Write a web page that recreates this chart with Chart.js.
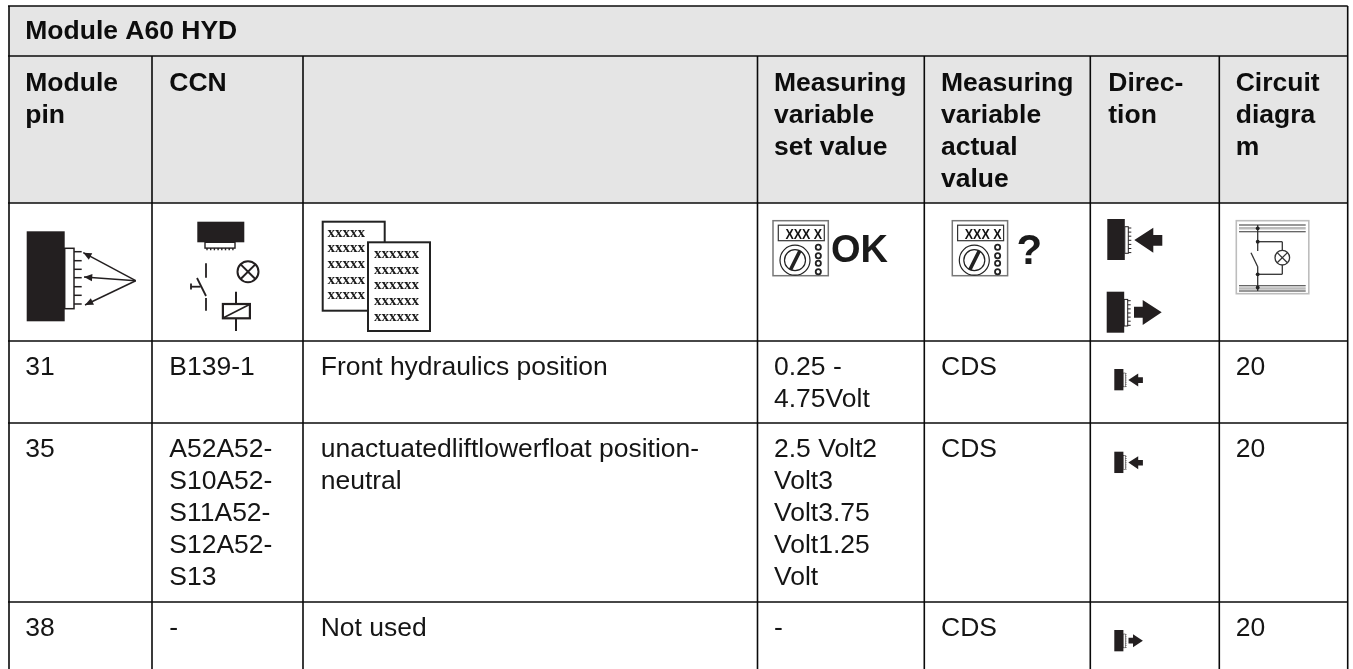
<!DOCTYPE html>
<html><head><meta charset="utf-8">
<style>html,body{margin:0;padding:0;background:#fff}canvas{display:block}</style>
<script src="https://cdn.jsdelivr.net/npm/chart.js@4"></script>
</head><body>
<canvas id="c" width="1353" height="669"></canvas>
<script>
// ---- table content ----
const tableTitle = "Module A60 HYD";
const columnHeaders = [["Module","pin"],["CCN"],[],["Measuring","variable","set value"],["Measuring","variable","actual","value"],["Direc-","tion"],["Circuit","diagra","m"]];
const modulePins = ["31","35","38"];
const ccnValues = [["B139-1"],["A52A52-","S10A52-","S11A52-","S12A52-","S13"],["-"]];
const descriptions = [["Front hydraulics position"],["unactuatedliftlowerfloat position-","neutral"],["Not used"]];
const setValues = [["0.25 -","4.75Volt"],["2.5 Volt2","Volt3","Volt3.75","Volt1.25","Volt"],["-"]];
const actualValues = ["CDS","CDS","CDS"];
const directions = ["in","in","out"];
const diagramValues = ["20","20","20"];
// ---- layout (in page units of the linear scales) ----
const colEdges = [9,152,303,757.5,924.3,1090.3,1219.3,1347.7];
const rowEdges = [6,56,203,341,423,602,669];
const textX = [25.3,169.3,320.7,774,941,1108.3,1235.7];
const FONT = '"Liberation Sans", Arial, sans-serif';
const SIZE = 25.6, LH = 32.05, STRETCH = 1.035;

const hLines = rowEdges.slice(0,6).map(y=>({label:'h',data:[{x:8,y},{x:1347.7,y}]}));
const vLines = colEdges.map((x,i)=>({label:'v',data:[{x,y:(i===0||i===7)?6:56},{x,y:669}]}));
const rules = hLines.concat(vLines).map(d=>Object.assign(d,{showLine:true,borderColor:'#0a0a0a',borderWidth:1.6,pointRadius:0,parsing:false,tension:0,fill:false}));

function poly(ctx,pts,fill){ctx.beginPath();pts.forEach((p,i)=>i?ctx.lineTo(p[0],p[1]):ctx.moveTo(p[0],p[1]));ctx.closePath();if(fill)ctx.fill();else ctx.stroke();}
function seg(ctx,x1,y1,x2,y2){ctx.beginPath();ctx.moveTo(x1,y1);ctx.lineTo(x2,y2);ctx.stroke();}
function dot(ctx,x,y,r){ctx.beginPath();ctx.arc(x,y,r,0,Math.PI*2);ctx.fill();}
function ring(ctx,x,y,r){ctx.beginPath();ctx.arc(x,y,r,0,Math.PI*2);ctx.stroke();}
function lamp(ctx,x,y,r){ring(ctx,x,y,r);const d=r*0.7;seg(ctx,x-d,y-d,x+d,y+d);seg(ctx,x-d,y+d,x+d,y-d);}
function arrowHead(ctx,x1,y1,x2,y2){
  seg(ctx,x1,y1,x2,y2);
  const a=Math.atan2(y2-y1,x2-x1),L=9,W=.42;
  poly(ctx,[[x2,y2],[x2-L*Math.cos(a-W),y2-L*Math.sin(a-W)],[x2-L*Math.cos(a+W),y2-L*Math.sin(a+W)]],true);
}
function dirIcon(ctx,kind,ox,oy,s){
  ctx.save();ctx.translate(ox,oy);ctx.scale(s,s);
  ctx.fillStyle='#231f20';ctx.strokeStyle='#231f20';
  ctx.fillRect(0,0,17.5,41);
  ctx.lineWidth=1;ctx.fillStyle='#fff';ctx.fillRect(17.5,7.7,3.5,26.6);ctx.strokeRect(17.5,7.7,3.5,26.6);
  ctx.fillStyle='#231f20';
  for(let i=0;i<7;i++){const y=9+i*4.1;seg(ctx,21,y,24,y);}
  if(kind==='in') poly(ctx,[[27,21],[46,8.7],[46,16],[55,16],[55,26.7],[46,26.7],[46,33.7]],true);
  else poly(ctx,[[27.3,15],[36,15],[36,8.3],[55,20.6],[36,33.3],[36,26],[27.3,26]],true);
  ctx.restore();
}
function meter(ctx,ox,oy){
  ctx.save();ctx.translate(ox,oy);
  ctx.strokeStyle='#777';ctx.lineWidth=1.5;ctx.strokeRect(0,0,55.3,55);
  ctx.strokeStyle='#333';ctx.lineWidth=1.2;ctx.strokeRect(5.3,4.5,46,15.5);
  ctx.save();ctx.translate(12.5,18);ctx.scale(.83,1);
  ctx.fillStyle='#111';ctx.font='bold 15px "Liberation Sans"';ctx.textBaseline='alphabetic';
  ctx.fillText('XXX X',0,0);ctx.restore();
  ctx.strokeStyle='#222';ctx.lineWidth=1.2;ring(ctx,22,39.5,15);ring(ctx,22,39.5,10.5);
  ctx.lineWidth=3.6;seg(ctx,17.5,49,27,30);
  ctx.lineWidth=1.8;[26.5,35,42.5,51].forEach(y=>ring(ctx,45.3,y,2.6));
  ctx.restore();
}
function iconsPlugin(chart){
  const ctx=chart.ctx;
  ctx.save();ctx.lineCap='butt';ctx.lineJoin='miter';
  // module pin
  ctx.fillStyle='#231f20';ctx.strokeStyle='#231f20';ctx.fillRect(26.7,231.3,38,90);
  ctx.lineWidth=1.5;ctx.strokeRect(64.7,248.3,9.3,60.4);
  [251.7,260.7,269.3,277.7,286.7,295.3,304].forEach(y=>seg(ctx,74,y,81.7,y));
  arrowHead(ctx,135.7,280.7,83.3,252.7);arrowHead(ctx,135.7,280.7,84,277);arrowHead(ctx,135.7,280.7,85,305);
  // CCN symbols
  ctx.fillRect(197.3,221.7,47,20.6);
  ctx.lineWidth=1.4;ctx.strokeRect(205,242.3,30,5.8);
  for(let i=0;i<8;i++)seg(ctx,207+i*3.7,248,207+i*3.7,250.3);
  ctx.lineWidth=1.8;seg(ctx,206,263.3,206,277.7);seg(ctx,197,278,206,296);seg(ctx,206,298,206,310.7);
  seg(ctx,190.7,286.7,200.5,286.7);seg(ctx,191,283.5,191,289.5);
  ctx.lineWidth=2;lamp(ctx,248,271.7,10.5);
  ctx.lineWidth=2.2;ctx.strokeRect(222.9,304,27,14.3);
  ctx.lineWidth=1.6;seg(ctx,223.5,317.8,249.5,304.5);
  ctx.lineWidth=2;seg(ctx,236,291.7,236,304);seg(ctx,236,318.3,236,331);
  // documents
  ctx.lineWidth=2;ctx.strokeStyle='#222';ctx.fillStyle='#fff';
  ctx.strokeRect(322.7,221.7,62,89);
  ctx.fillStyle='#1a1a1a';ctx.font='bold 15px "Liberation Serif"';ctx.textBaseline='middle';
  [233.3,248.3,264,280.3,295].forEach(y=>ctx.fillText('xxxxx',327.5,y));
  ctx.fillStyle='#fff';ctx.fillRect(368,242.3,62,88.7);ctx.strokeRect(368,242.3,62,88.7);
  ctx.fillStyle='#1a1a1a';
  [254.3,270,285.3,301,316.7].forEach(y=>ctx.fillText('xxxxxx',374,y));
  ctx.textBaseline='alphabetic';
  // meters
  meter(ctx,773,220.7);
  ctx.fillStyle='#1a1a1a';ctx.font='bold 38px '+FONT;ctx.fillText('OK',831,261.5);
  meter(ctx,952.3,220.7);
  ctx.font='bold 42px '+FONT;ctx.fillText('?',1016.5,264);
  // direction legend icons
  dirIcon(ctx,'in',1107.3,219,1);
  dirIcon(ctx,'out',1106.7,291.7,1);
  // circuit diagram icon
  ctx.strokeStyle='#bdbdbd';ctx.lineWidth=1.6;ctx.strokeRect(1236.3,220.7,72.5,73);
  ctx.strokeStyle='#bbb';ctx.lineWidth=2.5;seg(ctx,1239,228.3,1305.7,228.3);seg(ctx,1239,288.4,1305.7,288.4);
  ctx.strokeStyle='#333';ctx.lineWidth=1.1;
  [225,231.7,285.7,291].forEach(y=>seg(ctx,1239,y,1305.7,y));
  ctx.strokeStyle='#333';ctx.fillStyle='#222';ctx.lineWidth=1.3;
  seg(ctx,1257.7,225,1257.7,251);seg(ctx,1257.7,266.5,1257.7,291);
  seg(ctx,1251,252.7,1257.7,266.7);
  seg(ctx,1257.7,241.7,1282.3,241.7);seg(ctx,1282.3,241.7,1282.3,250);
  seg(ctx,1282.3,265,1282.3,274.3);seg(ctx,1282.3,274.3,1257.7,274.3);
  lamp(ctx,1282.3,257.7,7.3);
  [228.3,241.7,274.3,287.5].forEach(y=>dot(ctx,1257.7,y,1.9));
  // row direction icons
  const iconY=[369,451.7,630];
  directions.forEach((d,i)=>dirIcon(ctx,d,1114.3,iconY[i],0.52));
  ctx.restore();
}
function drawLines(ctx,x,y,lines){
  lines.forEach((t,i)=>{ctx.save();ctx.translate(x,y+i*LH);ctx.scale(STRETCH,1);ctx.fillText(t,0,0);ctx.restore();});
}
const tablePlugin={
  id:'moduleTable',
  beforeDatasetsDraw(chart){
    const {ctx,scales:{x,y}}=chart;
    ctx.save();ctx.fillStyle='#e5e5e5';
    ctx.fillRect(x.getPixelForValue(colEdges[0]),y.getPixelForValue(rowEdges[0]),x.getPixelForValue(colEdges[7])-x.getPixelForValue(colEdges[0]),y.getPixelForValue(rowEdges[2])-y.getPixelForValue(rowEdges[0]));
    ctx.restore();
  },
  afterDatasetsDraw(chart){
    const {ctx,scales:{x,y}}=chart;
    ctx.save();ctx.fillStyle='#0d0d0d';ctx.textBaseline='alphabetic';ctx.textAlign='left';
    ctx.font='bold '+SIZE+'px '+FONT;
    drawLines(ctx,x.getPixelForValue(textX[0]),y.getPixelForValue(39.3),[tableTitle]);
    columnHeaders.forEach((h,i)=>drawLines(ctx,x.getPixelForValue(textX[i]),y.getPixelForValue(90.7),h));
    ctx.font=SIZE+'px '+FONT;ctx.fillStyle='#151515';
    const bases=[375,456.7,636];
    bases.forEach((b,r)=>{
      const by=y.getPixelForValue(b);
      drawLines(ctx,x.getPixelForValue(textX[0]),by,[modulePins[r]]);
      drawLines(ctx,x.getPixelForValue(textX[1]),by,ccnValues[r]);
      drawLines(ctx,x.getPixelForValue(textX[2]),by,descriptions[r]);
      drawLines(ctx,x.getPixelForValue(textX[3]),by,setValues[r]);
      drawLines(ctx,x.getPixelForValue(textX[4]),by,[actualValues[r]]);
      drawLines(ctx,x.getPixelForValue(textX[6]),by,[diagramValues[r]]);
    });
    ctx.restore();
    iconsPlugin(chart);
  }
};
new Chart(document.getElementById('c'),{
  type:'scatter',
  data:{datasets:rules},
  options:{
    responsive:false,animation:false,
    layout:{padding:0},
    plugins:{legend:{display:false},tooltip:{enabled:false},title:{display:false}},
    scales:{
      x:{type:'linear',min:0,max:1353,display:false},
      y:{type:'linear',min:0,max:669,reverse:true,display:false}
    }
  },
  plugins:[tablePlugin]
});
</script>
</body></html>
